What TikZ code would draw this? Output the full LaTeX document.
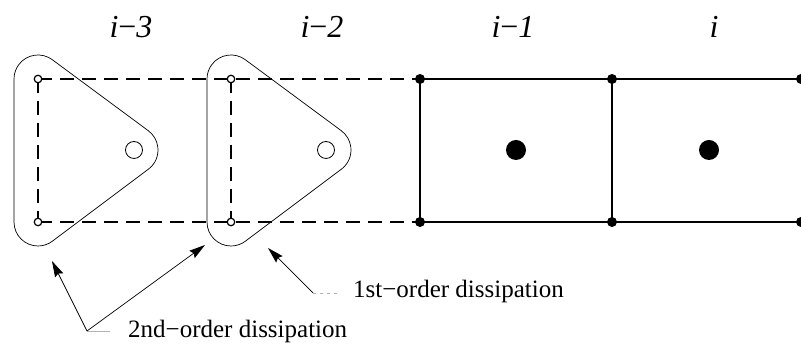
\documentclass[tikz,border=0pt]{standalone}
\usepackage{fontspec}
\setmainfont{Liberation Serif}
\usetikzlibrary{arrows.meta}
\tikzset{
  gridsolid/.style={line width=2pt},
  gridvert/.style={line width=1.4pt},
  griddash/.style={line width=2.2pt,dash pattern=on 14pt off 8pt},
  stencil/.style={line width=0.7pt},
  nodedot/.style={circle,fill=black,inner sep=0pt,minimum size=10pt},
  centerdot/.style={circle,fill=black,inner sep=0pt,minimum size=20pt},
  opendot/.style={circle,draw=black,fill=white,line width=1.2pt,inner sep=0pt,minimum size=7.5pt},
  opencenter/.style={circle,draw=black,line width=0.8pt,inner sep=0pt,minimum size=17pt},
  celllabel/.style={font=\fontsize{32}{36}\selectfont,anchor=base,inner sep=0pt},
  note/.style={font=\fontsize{25}{29}\selectfont,anchor=base west,inner sep=0pt},
  pointer/.style={line width=0.7pt,-{Stealth[length=16pt,width=9pt,inset=2pt]}},
  leader/.style={line width=0.8pt,gray!60}
}
\begin{document}
\begin{tikzpicture}[x=1pt,y=1pt]
\useasboundingbox (0,0) rectangle (801,344);
% grid coordinates
\coordinate (t0) at (38,265); \coordinate (b0) at (38,122);
\coordinate (t1) at (231,265); \coordinate (b1) at (231,122);
\coordinate (t2) at (420,265); \coordinate (b2) at (420,122);
\coordinate (t3) at (612,265); \coordinate (b3) at (612,122);
\coordinate (t4) at (801,265); \coordinate (b4) at (801,122);
% stencils (rounded triangles)
\foreach \dx in {0,193}{
  \begin{scope}[xshift=\dx pt]
  \draw[stencil] (14,265) -- (14,122)
     arc[start angle=180,end angle=306.87,radius=24]
     -- (148.4,174.8)
     arc[start angle=-53.13,end angle=53.5,radius=24]
     -- (52.28,284.3)
     arc[start angle=53.5,end angle=180,radius=24] -- cycle;
  \end{scope}
}
% dashed part
\draw[griddash] (t0) -- (t2);
\draw[griddash] (b0) -- (b2);
\draw[griddash] (t0) -- (b0);
\draw[griddash] (t1) -- (b1);
% solid part
\draw[gridsolid] (t2) -- (t4);
\draw[gridsolid] (b2) -- (b4);
\draw[gridvert] (t2) -- (b2);
\draw[gridvert] (t3) -- (b3);
% vertex markers
\node[opendot] (o1) at (t0) {};
\node[opendot] (o2) at (b0) {};
\node[opendot] (o3) at (t1) {};
\node[opendot] (o4) at (b1) {};
\node[nodedot] (d1) at (t2) {};
\node[nodedot] (d2) at (b2) {};
\node[nodedot] (d3) at (t3) {};
\node[nodedot] (d4) at (b3) {};
\node[nodedot] (d5) at (t4) {};
\node[nodedot] (d6) at (b4) {};
% cell centres
\node[opencenter] (c0) at (134,194) {};
\node[opencenter] (c1) at (326,194) {};
\node[centerdot] (c2) at (516,194) {};
\node[centerdot] (c3) at (709,194) {};
% labels
\node[celllabel] (l0) at (131,306) {\textit{i}−\textit{3}};
\node[celllabel] (l1) at (322,306) {\textit{i}−\textit{2}};
\node[celllabel] (l2) at (513,306) {\textit{i}−\textit{1}};
\node[celllabel] (l3) at (714,306) {\textit{i}};
% annotations
\node[note] (n1) at (353,46) {1st−order dissipation};
\node[note] (n2) at (128,6) {2nd−order dissipation};
\coordinate (p1) at (313,51);
\coordinate (q1) at (338,51);
\coordinate (p2) at (87,13);
\coordinate (q2) at (110,13);
\coordinate (tip1) at (268,96);
\coordinate (tip2) at (52,83);
\coordinate (tip3) at (205,99);
\draw[leader,dash pattern=on 3pt off 4pt] (p1) -- (q1);
\draw[leader] (p2) -- (q2);
\draw[pointer] (p1) -- (tip1);
\draw[pointer] (p2) -- (tip2);
\draw[pointer] (p2) -- (tip3);
\end{tikzpicture}
\end{document}
